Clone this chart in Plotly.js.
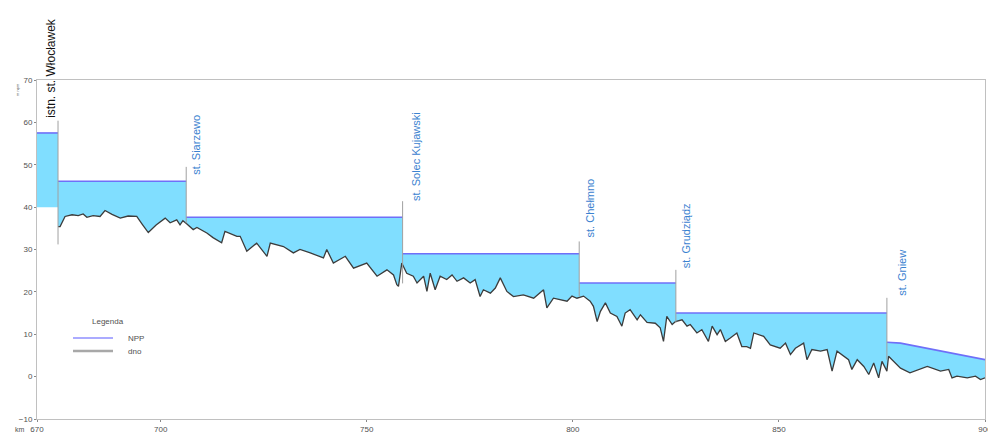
<!DOCTYPE html>
<html>
<head>
<meta charset="utf-8">
<script src="https://cdn.plot.ly/plotly-3.0.1.min.js"></script>
<style>html,body{margin:0;padding:0;background:#fff;}#chart{width:988px;height:434px;}</style>
</head>
<body>
<div id="chart"></div>
<script>
// ---- data ----
// water level (NPP) step profile
const nppKm  = [670, 675.1, 675.1, 706.2, 706.2, 758.7, 758.7, 801.55, 801.55, 825.0, 825.0, 876.2, 876.2, 879.5, 900];
const nppVal = [57.5, 57.5, 46.1, 46.1, 37.6, 37.6, 29.0, 29.0, 22.1, 22.1, 15.0, 15.0, 8.1, 7.9, 4.0];

// upstream reservoir bottom (before dam)
const upperKm  = [670, 675.1];
const upperVal = [40, 40];

// river bed (dno)
const dnoKm = [675.1, 675.6, 676.8, 678.5, 680.0, 681.2, 682.1, 683.6, 685.3, 686.5, 688.2, 690.2, 692.1, 694.2, 695.5, 697.0, 698.9, 701.1, 702.3, 703.9, 704.7, 705.4, 706.3,
  707.9, 708.8, 711.2, 712.7, 714.8, 715.6, 718.5, 719.3, 720.9, 723.3, 725.8, 726.6, 729.8, 732.2, 733.8, 736.3, 739.5, 740.3, 741.9, 744.8, 746.8, 750.0, 752.5, 754.9, 756.5, 757.3, 757.7,
  758.5, 759.7, 761.3, 762.2, 763.8, 764.6, 765.4, 766.6, 767.8, 769.4, 770.7, 771.9, 773.5, 775.1, 776.3, 777.5, 778.3, 780.0, 781.2, 782.4, 784.0, 785.6, 788.0, 790.5, 792.9, 793.7, 795.3, 796.9, 798.6, 799.8, 801.0,
  802.6, 804.2, 805.0, 805.9, 806.7, 807.9, 809.1, 810.7, 811.9, 812.7, 813.9, 815.6, 816.4, 818.0, 820.0, 821.2, 822.0, 822.8, 824.1, 824.9,
  826.5, 827.7, 828.5, 830.1, 831.3, 832.9, 833.8, 835.0, 835.8, 837.0, 838.2, 839.8, 841.0, 842.2, 843.1, 843.9, 846.3, 847.9, 850.3, 851.6, 852.8, 854.0, 856.0, 856.8, 858.0, 860.1, 861.7, 862.9, 864.1, 866.9, 867.7, 869.0, 870.6, 871.8, 873.0, 874.2, 875.0, 876.2,
  876.6, 877.8, 879.5, 881.8, 883.9, 886.0, 889.2, 891.2, 892.0, 893.2, 895.7, 897.7, 898.9, 900];
const dnoVal = [35.4, 35.4, 37.8, 38.2, 38.0, 38.4, 37.6, 38.0, 37.8, 39.2, 38.3, 37.4, 37.9, 37.8, 36.0, 34.0, 35.8, 37.4, 36.3, 37.0, 35.8, 36.8, 36.1,
  34.7, 35.2, 33.9, 32.8, 31.6, 34.3, 33.1, 33.1, 29.6, 31.5, 28.4, 31.5, 30.7, 29.2, 30.0, 29.2, 28.0, 30.0, 26.8, 28.4, 25.6, 26.8, 23.7, 25.2, 24.0, 21.7, 21.3,
  26.8, 24.4, 23.7, 22.1, 23.7, 20.1, 24.4, 20.5, 23.7, 22.9, 24.0, 22.5, 23.3, 22.1, 22.9, 18.9, 20.5, 19.7, 20.9, 23.3, 20.1, 18.9, 19.3, 18.5, 20.5, 16.2, 18.5, 18.2, 17.8, 19.0, 18.5,
  19.0, 17.8, 16.6, 13.0, 15.4, 17.4, 15.0, 14.2, 11.9, 15.0, 15.8, 13.4, 14.6, 12.8, 12.6, 11.5, 8.3, 14.2, 12.3, 13.0,
  13.4, 11.9, 12.3, 10.3, 11.1, 8.3, 11.9, 9.9, 11.1, 8.3, 9.1, 10.3, 7.1, 7.1, 6.7, 10.3, 9.5, 7.5, 6.7, 7.9, 5.2, 6.7, 7.9, 4.0, 6.4, 6.0, 6.4, 1.3, 6.0, 4.0, 1.7, 4.0, 2.4, 0.5, 3.2, -0.3, 3.6, 1.3,
  4.8, 3.6, 2.0, 0.9, 1.7, 2.4, 1.3, 1.7, -0.3, 0.1, -0.3, 0.1, -0.7, -0.3];

// stations
const stationNames  = ['istn. st. Włocławek', 'st. Siarzewo', 'st. Solec Kujawski', 'st. Chełmno', 'st. Grudziądz', 'st. Gniew'];
const stationKm     = [675.1, 706.2, 758.7, 801.55, 825.0, 876.2];
const stationTop    = [60.4, 49.5, 41.4, 31.9, 25.2, 18.6];
const stationBottom = [31.2, 36.2, 22.0, 19.0, 12.7, 4.0];
const labelBottom   = [60.6, 47.2, 41.0, 32.3, 25.2, 18.6];

const xTicks = [670, 700, 750, 800, 850, 900];
const yTicks = [-10, 0, 10, 20, 30, 40, 50, 60, 70];

// ---- styling (not data) ----
const labelShift = [-7, 9, 14, 11, 10, 15];
const labelColor = ['#111111', '#3b82d0', '#3b82d0', '#3b82d0', '#3b82d0', '#3b82d0'];
const FILL = '#80deff';
const NPPC = '#6f6ff8';
const FONT = 'Liberation Sans, Arial, sans-serif';
const TXT = '#505050';

// NPP line without vertical drops
const nppLineX = [], nppLineY = [];
for (let i = 0; i < nppKm.length; i++) {
  if (i > 0 && nppKm[i] === nppKm[i - 1]) { nppLineX.push(null); nppLineY.push(null); }
  nppLineX.push(nppKm[i]); nppLineY.push(nppVal[i]);
}

// station vertical lines
const stX = [], stY = [];
stationKm.forEach((k, i) => { stX.push(k, k, null); stY.push(stationTop[i], stationBottom[i], null); });

const traces = [
  { x: upperKm.concat(dnoKm), y: upperVal.concat(dnoVal), mode: 'lines', line: { width: 0, color: FILL }, hoverinfo: 'skip', showlegend: false },
  { x: nppKm, y: nppVal, mode: 'lines', fill: 'tonexty', fillcolor: FILL, line: { width: 0, color: FILL }, hoverinfo: 'skip', showlegend: false },
  { x: nppLineX, y: nppLineY, mode: 'lines', line: { width: 1.6, color: NPPC }, connectgaps: false, name: 'NPP', showlegend: false },
  { x: dnoKm, y: dnoVal, mode: 'lines', line: { width: 1.3, color: '#3c3c3c' }, name: 'dno', showlegend: false },
  { x: stX, y: stY, mode: 'lines', line: { width: 1, color: '#a0a0a0' }, connectgaps: false, hoverinfo: 'skip', showlegend: false }
];

const annotations = stationNames.map((n, i) => ({
  text: n, xref: 'x', yref: 'y', x: stationKm[i], y: labelBottom[i], xshift: labelShift[i],
  xanchor: 'center', yanchor: 'bottom', textangle: -90, showarrow: false,
  font: { family: FONT, size: i === 0 ? 12 : 11, color: labelColor[i] }
}));

// px helpers for legend / small labels
const L = 37, T = 80, W = 948, H = 339;
const px = v => (v - L) / W;
const py = v => (T + H - v) / H;

annotations.push(
  { text: 'km', xref: 'paper', yref: 'paper', x: px(20), y: py(429), xanchor: 'center', yanchor: 'middle', showarrow: false, font: { family: FONT, size: 7, color: TXT } },
  { text: 'm npm', xref: 'paper', yref: 'paper', x: px(18), y: py(90), xanchor: 'center', yanchor: 'middle', textangle: -90, showarrow: false, font: { family: FONT, size: 4, color: TXT } },
  { text: 'Legenda', xref: 'paper', yref: 'paper', x: px(108), y: py(321), xanchor: 'center', yanchor: 'middle', showarrow: false, font: { family: FONT, size: 8, color: TXT } },
  { text: 'NPP', xref: 'paper', yref: 'paper', x: px(126), y: py(338), xanchor: 'left', yanchor: 'middle', showarrow: false, font: { family: FONT, size: 8, color: TXT } },
  { text: 'dno', xref: 'paper', yref: 'paper', x: px(126), y: py(351), xanchor: 'left', yanchor: 'middle', showarrow: false, font: { family: FONT, size: 8, color: TXT } }
);

const shapes = [
  { type: 'line', xref: 'paper', yref: 'paper', x0: px(73), x1: px(113), y0: py(338), y1: py(338), line: { color: '#8f8fff', width: 1.5 } },
  { type: 'line', xref: 'paper', yref: 'paper', x0: px(73), x1: px(113), y0: py(351), y1: py(351), line: { color: '#a8a8a8', width: 2.5 } }
];

const layout = {
  width: 988, height: 434,
  margin: { l: L, r: 988 - L - W, t: T, b: 434 - T - H, pad: 0 },
  paper_bgcolor: '#fff', plot_bgcolor: '#fff',
  showlegend: false,
  font: { family: FONT, size: 8, color: TXT },
  xaxis: {
    range: [670, 900], tickvals: xTicks, ticktext: xTicks.map(String),
    showgrid: false, zeroline: false, showline: true, mirror: true, linecolor: '#c0c0c0', linewidth: 1,
    ticks: 'outside', ticklen: 2, tickcolor: '#888', tickfont: { family: FONT, size: 8, color: TXT },
    automargin: false, ticklabeloverflow: 'allow'
  },
  yaxis: {
    range: [-10, 70], tickvals: yTicks, ticktext: yTicks.map(v => v < 0 ? '\u2212' + Math.abs(v) : String(v)),
    showgrid: false, zeroline: false, showline: true, mirror: true, linecolor: '#c0c0c0', linewidth: 1,
    ticks: 'outside', ticklen: 2, tickcolor: '#888', tickfont: { family: FONT, size: 8, color: TXT },
    automargin: false, ticklabeloverflow: 'allow'
  },
  annotations: annotations,
  shapes: shapes
};

Plotly.newPlot('chart', traces, layout, { displayModeBar: false, staticPlot: true });
</script>
</body>
</html>
